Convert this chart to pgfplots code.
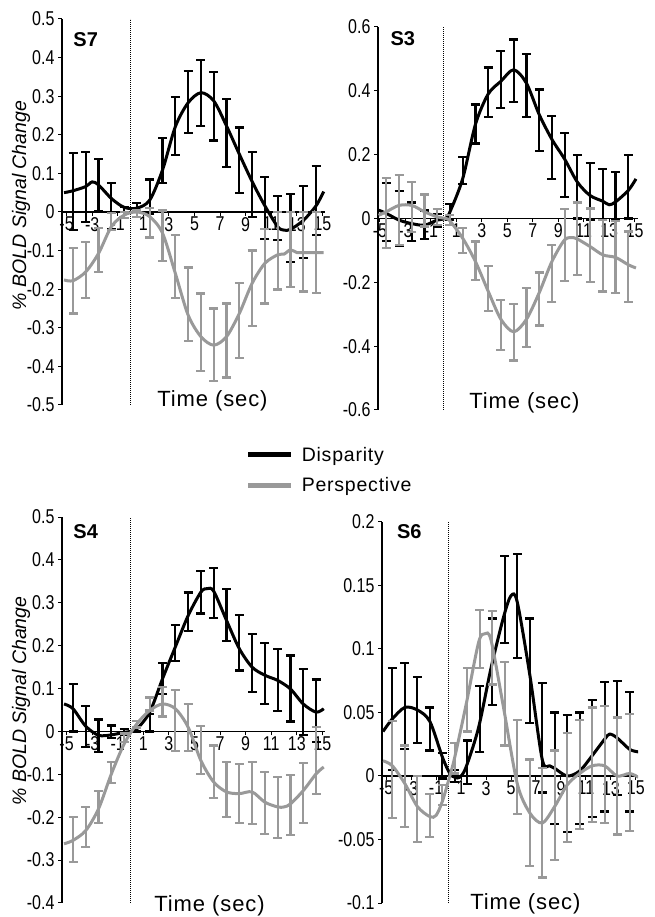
\documentclass[border=0pt]{standalone}
\usepackage{fontspec}
\setmainfont{Liberation Sans}
\newfontfamily\narrowfont[FakeStretch=0.8]{Liberation Sans}
\newfontfamily\spacedfont[LetterSpace=4]{Liberation Sans}
\usepackage{pgfplots}
\usepackage{pgfplotstable}
\pgfplotsset{compat=1.18}

\definecolor{persp}{RGB}{153,153,153}

% bars: x, disparity mean/err, perspective mean/err
\pgfplotstableread{
x bm be gm ge
-4.5 0.053 0.100 -0.178 0.085
-3.5 0.065 0.090 -0.150 0.073
-2.5 0.070 0.067 -0.098 0.057
-1.5 0.015 0.060 -0.025 0.022
-0.5 -0.002 0.014 -0.008 0.008
0.5 0.006 0.018 -0.005 0.009
1.5 0.040 0.044 -0.028 0.038
2.5 0.133 0.058 -0.061 0.065
3.5 0.223 0.075 -0.141 0.081
4.5 0.285 0.081 -0.239 0.095
5.5 0.308 0.085 -0.311 0.100
6.5 0.274 0.089 -0.344 0.094
7.5 0.205 0.088 -0.333 0.096
8.5 0.134 0.085 -0.281 0.098
9.5 0.071 0.085 -0.198 0.098
10.5 0.010 0.081 -0.141 0.096
11.5 -0.016 0.057 -0.100 0.101
12.5 -0.041 0.088 -0.097 0.097
13.5 -0.026 0.094 -0.103 0.103
14.5 0.030 0.090 -0.105 0.105
}\barsSseven
\pgfplotstableread{
x y
-5.2 0.050
-4.5 0.055
-3.5 0.066
-3.0 0.078
-2.5 0.070
-1.5 0.035
-0.5 0.012
0.5 0.010
1.5 0.031
2.5 0.109
3.5 0.221
4.5 0.283
5.5 0.309
6.5 0.288
7.5 0.223
8.5 0.150
9.5 0.079
10.5 0.016
11.5 -0.038
12.0 -0.047
12.5 -0.045
13.5 -0.022
14.5 0.016
15.1 0.053
}\dispSseven
\pgfplotstableread{
x y
-5.2 -0.176
-4.5 -0.178
-3.5 -0.155
-2.5 -0.107
-1.5 -0.038
-0.5 -0.008
0.5 0.000
1.5 -0.012
2.5 -0.055
3.5 -0.159
4.5 -0.267
5.5 -0.323
6.5 -0.345
7.5 -0.323
8.5 -0.263
9.5 -0.185
10.5 -0.133
11.5 -0.111
12.0 -0.109
12.5 -0.098
13.0 -0.105
13.5 -0.105
14.5 -0.105
15.1 -0.105
}\perspSseven

\pgfplotstableread{
x bm be gm ge
-4.5 0.020 0.090 0.018 0.110
-3.5 0.000 0.085 0.027 0.110
-2.5 -0.010 0.060 0.036 0.078
-1.5 -0.020 0.045 0.025 0.050
-0.5 -0.005 0.020 0.004 0.025
0.5 0.020 0.025 -0.005 0.015
1.5 0.150 0.042 -0.069 0.040
2.5 0.296 0.061 -0.132 0.060
3.5 0.395 0.078 -0.220 0.070
4.5 0.436 0.089 -0.334 0.078
5.5 0.463 0.098 -0.357 0.088
6.5 0.417 0.098 -0.310 0.093
7.5 0.308 0.096 -0.252 0.083
8.5 0.222 0.098 -0.172 0.089
9.5 0.167 0.100 -0.083 0.112
10.5 0.100 0.100 -0.064 0.114
11.5 0.085 0.090 -0.084 0.115
12.5 0.075 0.080 -0.117 0.112
13.5 0.070 0.075 -0.121 0.113
14.5 0.100 0.100 -0.151 0.110
}\barsSthree
\pgfplotstableread{
x y
-5.1 0.026
-4.5 0.016
-3.5 -0.005
-2.5 -0.016
-1.5 -0.021
-0.5 -0.005
0.15 0.000
0.5 0.021
1.5 0.125
2.5 0.295
3.5 0.390
4.5 0.430
5.5 0.466
6.5 0.424
7.5 0.326
8.5 0.248
9.5 0.186
10.5 0.114
11.5 0.072
12.5 0.054
13.0 0.043
13.5 0.052
14.5 0.088
15.1 0.124
}\dispSthree
\pgfplotstableread{
x y
-5.1 0.010
-4.5 0.021
-3.5 0.041
-2.5 0.041
-1.5 0.021
-0.5 0.005
0.15 0.000
0.5 -0.008
1.5 -0.062
2.5 -0.135
3.5 -0.228
4.5 -0.316
5.5 -0.355
6.5 -0.316
7.5 -0.233
8.5 -0.135
9.5 -0.067
10.2 -0.060
10.5 -0.064
11.5 -0.088
12.5 -0.114
13.5 -0.122
14.5 -0.145
15.1 -0.155
}\perspSthree

\pgfplotstableread{
x bm be gm ge
-4.5 0.055 0.055 -0.252 0.052
-3.5 0.011 0.048 -0.223 0.047
-2.5 -0.010 0.038 -0.176 0.038
-1.5 -0.001 0.015 -0.096 0.025
-0.5 -0.002 0.007 -0.015 0.010
0.5 0.005 0.005 0.017 0.008
1.5 0.020 0.020 0.064 0.015
2.5 0.124 0.036 0.069 0.034
3.5 0.207 0.042 0.025 0.071
4.5 0.279 0.045 0.009 0.055
5.5 0.325 0.050 -0.044 0.056
6.5 0.323 0.058 -0.094 0.061
7.5 0.272 0.061 -0.135 0.064
8.5 0.207 0.065 -0.145 0.069
9.5 0.160 0.068 -0.143 0.072
10.5 0.135 0.071 -0.167 0.072
11.5 0.120 0.073 -0.178 0.071
12.5 0.100 0.077 -0.172 0.070
13.5 0.068 0.077 -0.144 0.070
14.5 0.048 0.073 -0.068 0.078
}\barsSfour
\pgfplotstableread{
x y
-5.2 0.064
-4.5 0.053
-3.5 0.012
-2.5 -0.009
-1.5 -0.008
-0.5 -0.002
0.0 0.000
0.5 0.006
1.5 0.045
2.5 0.123
3.5 0.197
4.5 0.270
5.5 0.325
6.0 0.333
6.5 0.327
7.5 0.259
8.5 0.193
9.5 0.150
10.5 0.131
11.5 0.119
12.5 0.099
13.5 0.064
14.5 0.045
15.1 0.053
}\dispSfour
\pgfplotstableread{
x y
-5.2 -0.262
-4.5 -0.254
-3.5 -0.231
-2.5 -0.180
-1.5 -0.099
-0.5 -0.029
0.5 0.018
1.5 0.049
2.5 0.064
3.5 0.053
4.5 0.010
5.5 -0.068
6.5 -0.118
7.5 -0.141
8.5 -0.145
9.5 -0.141
10.5 -0.165
11.5 -0.176
12.0 -0.176
12.5 -0.169
13.5 -0.138
14.5 -0.099
15.1 -0.083
}\perspSfour

\pgfplotstableread{
x bm be gm ge
-4.5 0.045 0.040 0.005 0.038
-3.5 0.055 0.034 -0.008 0.032
-2.5 0.052 0.026 -0.026 0.026
-1.5 0.037 0.017 -0.031 0.017
-0.5 0.008 0.010 -0.015 0.008
0.5 0.000 0.005 0.014 0.012
1.5 0.011 0.017 0.060 0.025
2.5 0.045 0.026 0.108 0.023
3.5 0.090 0.034 0.101 0.029
4.5 0.139 0.034 0.057 0.033
5.5 0.134 0.041 0.007 0.037
6.5 0.083 0.041 -0.029 0.042
7.5 0.030 0.043 -0.037 0.043
8.5 0.006 0.044 -0.023 0.043
9.5 0.002 0.046 -0.009 0.043
10.5 0.006 0.044 0.001 0.043
11.5 0.014 0.046 0.009 0.045
12.5 0.023 0.051 0.009 0.046
13.5 0.030 0.045 0.000 0.046
14.5 0.019 0.047 0.003 0.046
}\barsSsix
\pgfplotstableread{
x y
-5.25 0.035
-4.5 0.045
-3.5 0.054
-2.5 0.052
-1.5 0.043
-0.5 0.015
0.1 0.002
0.5 -0.001
0.9 -0.001
1.4 0.007
2.4 0.038
3.4 0.085
4.4 0.125
5.0 0.142
5.5 0.137
6.5 0.080
7.5 0.013
8.1 0.008
8.5 0.006
9.5 0.000
10.5 0.004
11.5 0.016
12.5 0.029
12.9 0.033
13.5 0.030
14.5 0.021
15.2 0.019
}\dispSsix
\pgfplotstableread{
x y
-5.25 0.012
-4.5 0.008
-3.5 -0.006
-2.5 -0.024
-1.5 -0.032
-1.0 -0.031
-0.5 -0.020
0.1 0.000
0.5 0.015
1.4 0.056
2.4 0.105
2.9 0.112
3.4 0.107
4.4 0.054
5.5 -0.006
6.5 -0.029
7.5 -0.037
8.5 -0.024
9.5 -0.007
10.5 0.002
11.5 0.008
12.5 0.008
13.5 0.000
14.5 0.002
15.2 -0.001
}\perspSsix

\pgfplotsset{
  panel/.style={
    scale only axis,
    anchor=south west,
    axis x line=middle, axis y line=left,
    axis line style={-, black, line width=1.2pt},
    xtick={-5,-3,...,15},
    tick align=outside,
    major tick length=4pt,
    tick style={black, line width=1pt},
    ticklabel style={font=\narrowfont\fontsize{20}{22}\selectfont},
    xticklabel style={inner sep=1pt},
    /pgf/number format/assume math mode=true,
    /pgf/number format/fixed,
    hide obscured x ticks=false, hide obscured y ticks=false,
    xlabel={Time (sec)},
    xlabel style={font=\spacedfont\fontsize{22}{24}\selectfont, anchor=base},
    ylabel style={font=\itshape\fontsize{19.5}{22}\selectfont, anchor=center},
    clip mode=individual,
  },
  dcurve/.style={black, line width=3pt, smooth, tension=0.5, mark=none},
  pcurve/.style={persp, line width=3pt, smooth, tension=0.5, mark=none},
  ebar/.style={forget plot, draw=none, mark=none,
    error bars/y dir=both, error bars/y explicit,
    error bars/error bar style={draw=#1, line width=2.2pt, solid},
    error bars/error mark options={rotate=90, draw=#1, mark size=4.5pt, line width=2.2pt}},
}
\tikzset{lbl/.style={anchor=west, font=\bfseries\fontsize{20}{22}\selectfont}}

\begin{document}
\begin{tikzpicture}
\path[use as bounding box] (0pt,0pt) rectangle (654pt,917pt);

% ---------- S7 ----------
\begin{axis}[panel,
  at={(62pt,512pt)}, width=263pt, height=386pt,
  xmin=-5.36, xmax=15.2, ymin=-0.5, ymax=0.5,
  ytick={-0.5,-0.4,-0.3,-0.2,-0.1,0,0.1,0.2,0.3,0.4,0.5},
  xlabel style={at={(rel axis cs:0.572,-0.005)}},
  ylabel={\%~BOLD Signal Change},
  ylabel style={at={([xshift=-41pt]rel axis cs:0,0.517)}},
  legend style={at={(rel axis cs:0.698,-0.098)}, anchor=north west,
    draw=none, fill=none, font=\spacedfont\fontsize{19.5}{21}\selectfont,
    row sep=7pt, inner sep=0pt, nodes={inner sep=4pt}},
  legend cell align=left,
  legend image code/.code={\draw[#1, line width=5pt] (0pt,0pt) -- (43pt,0pt); \path (48pt,0pt);},
]
\draw[densely dotted, line width=1pt] (axis cs:0,-0.5) -- (axis cs:0,0.5);
\addplot[ebar=black] table[x=x, y=bm, y error=be] {\barsSseven};
\addplot[dcurve] table[x=x, y=y] {\dispSseven};
\addlegendentry{Disparity}
\addplot[ebar=persp] table[x=x, y=gm, y error=ge] {\barsSseven};
\addplot[pcurve] table[x=x, y=y] {\perspSseven};
\addlegendentry{Perspective}
\node[lbl] at (rel axis cs:0.03,0.946) {S7};
\end{axis}

% ---------- S3 ----------
\begin{axis}[panel,
  at={(378pt,507pt)}, width=260pt, height=383pt,
  xmin=-5.15, xmax=15.26, ymin=-0.6, ymax=0.6,
  ytick={-0.6,-0.4,-0.2,0,0.2,0.4,0.6},
  xlabel style={at={(rel axis cs:0.563,0.005)}},
]
\draw[densely dotted, line width=1pt] (axis cs:0,-0.6) -- (axis cs:0,0.6);
\addplot[ebar=black] table[x=x, y=bm, y error=be] {\barsSthree};
\addplot[dcurve] table[x=x, y=y] {\dispSthree};
\addplot[ebar=persp] table[x=x, y=gm, y error=ge] {\barsSthree};
\addplot[pcurve] table[x=x, y=y] {\perspSthree};
\node[lbl] at (rel axis cs:0.035,0.97) {S3};
\end{axis}

% ---------- S4 ----------
\begin{axis}[panel,
  at={(62pt,14pt)}, width=263pt, height=386pt,
  xmin=-5.36, xmax=15.2, ymin=-0.4, ymax=0.5,
  ytick={-0.4,-0.3,-0.2,-0.1,0,0.1,0.2,0.3,0.4,0.5},
  xlabel style={at={(rel axis cs:0.561,-0.023)}},
  ylabel={\%~BOLD Signal Change},
  ylabel style={at={([xshift=-41pt]rel axis cs:0,0.523)}},
]
\draw[densely dotted, line width=1pt] (axis cs:0,-0.4) -- (axis cs:0,0.5);
\addplot[ebar=black] table[x=x, y=bm, y error=be] {\barsSfour};
\addplot[dcurve] table[x=x, y=y] {\dispSfour};
\addplot[ebar=persp] table[x=x, y=gm, y error=ge] {\barsSfour};
\addplot[pcurve] table[x=x, y=y] {\perspSfour};
\node[lbl] at (rel axis cs:0.03,0.961) {S4};
\end{axis}

% ---------- S6 ----------
\begin{axis}[panel,
  at={(382pt,14pt)}, width=256pt, height=381pt,
  xmin=-5.33, xmax=15.17, ymin=-0.1, ymax=0.2,
  ytick={-0.1,-0.05,0,0.05,0.1,0.15,0.2},
  xlabel style={at={(rel axis cs:0.56,-0.018)}},
]
\draw[densely dotted, line width=1pt] (axis cs:0,-0.1) -- (axis cs:0,0.2);
\addplot[ebar=black] table[x=x, y=bm, y error=be] {\barsSsix};
\addplot[dcurve] table[x=x, y=y] {\dispSsix};
\addplot[ebar=persp] table[x=x, y=gm, y error=ge] {\barsSsix};
\addplot[pcurve] table[x=x, y=y] {\perspSsix};
\node[lbl] at (rel axis cs:0.045,0.974) {S6};
\end{axis}
\end{tikzpicture}
\end{document}
